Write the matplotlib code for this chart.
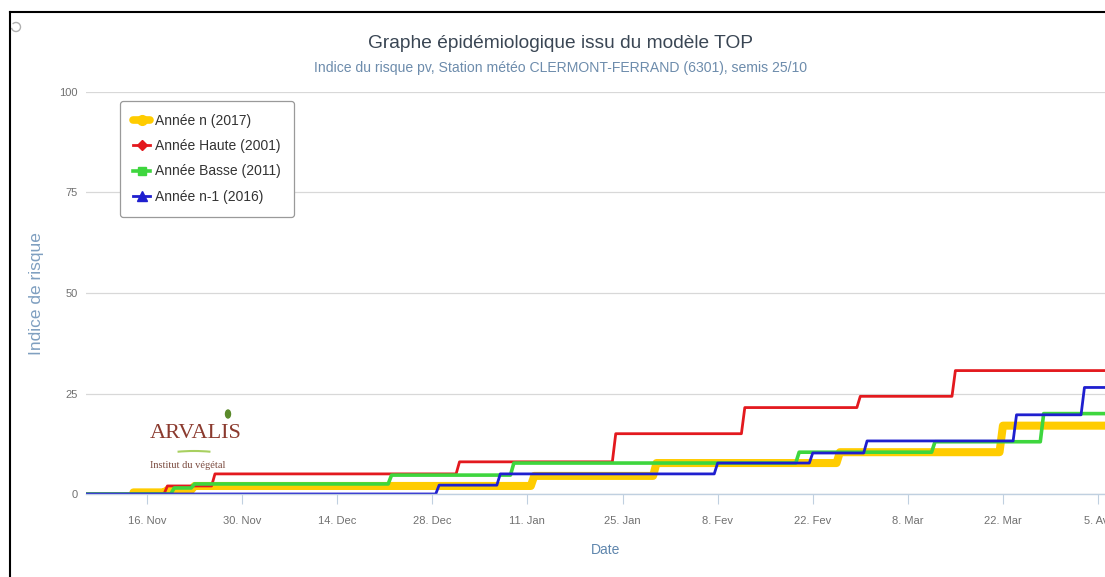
import matplotlib
matplotlib.use("Agg")
import matplotlib.pyplot as plt
from matplotlib.lines import Line2D
from matplotlib.patches import Arc, Ellipse
from datetime import datetime, timedelta

# ---------------- data ----------------
title = "Graphe épidémiologique issu du modèle TOP"
subtitle = "Indice du risque pv, Station météo CLERMONT-FERRAND (6301), semis 25/10"

series_names = ["Année n (2017)", "Année Haute (2001)", "Année Basse (2011)", "Année n-1 (2016)"]

yellow_dates = ["2017-11-14", "2017-11-19", "2017-11-23", "2018-01-12", "2018-01-30",
                "2018-02-26", "2018-03-22", "2018-04-09"]
yellow_vals = [0.4, 1.0, 2.0, 4.5, 7.7, 10.4, 17.0, 17.0]

red_dates = ["2017-11-07", "2017-11-19", "2017-11-26", "2018-01-01", "2018-01-24",
             "2018-02-12", "2018-03-01", "2018-03-15", "2018-04-09"]
red_vals = [0.0, 2.0, 5.0, 8.0, 15.0, 21.5, 24.3, 30.7, 30.7]

green_dates = ["2017-11-07", "2017-11-20", "2017-11-23", "2017-12-22", "2018-01-09",
               "2018-02-20", "2018-03-12", "2018-03-28", "2018-04-09"]
green_vals = [0.0, 1.5, 2.5, 4.7, 7.7, 10.4, 13.0, 20.0, 20.0]

blue_dates = ["2017-11-07", "2017-12-29", "2018-01-07", "2018-02-08", "2018-02-22",
              "2018-03-02", "2018-03-24", "2018-04-03", "2018-04-09"]
blue_vals = [0.0, 2.2, 5.0, 7.7, 10.2, 13.2, 19.7, 26.5, 26.5]

tick_dates = ["2017-11-16", "2017-11-30", "2017-12-14", "2017-12-28", "2018-01-11",
              "2018-01-25", "2018-02-08", "2018-02-22", "2018-03-08", "2018-03-22", "2018-04-05"]
tick_labels = ["16. Nov", "30. Nov", "14. Dec", "28. Dec", "11. Jan", "25. Jan",
               "8. Fev", "22. Fev", "8. Mar", "22. Mar", "5. Avr"]
y_ticks = [0, 25, 50, 75, 100]

x_start = "2017-11-07"
x_end = "2018-04-09"

# ---------------- style ----------------
FONT = ["Liberation Sans", "DejaVu Sans"]
plt.rcParams["font.family"] = FONT


def d(s):
    return datetime.strptime(s, "%Y-%m-%d")


def ramp_steps(dates, vals, ramp_days=0.5):
    """Step line where each change happens over a short ramp (as in the original chart)."""
    xs, ys = [d(dates[0])], [vals[0]]
    for i in range(1, len(dates)):
        t = d(dates[i])
        xs.append(t - timedelta(days=ramp_days))
        ys.append(vals[i - 1])
        xs.append(t)
        ys.append(vals[i])
    return xs, ys


W, H = 1105, 577
fig = plt.figure(figsize=(W / 100, H / 100), dpi=100)
fig.patch.set_facecolor("white")

left_px, right_px, top_px, bot_px = 85.9, 1125.2, 92, 494
ax = fig.add_axes([left_px / W, 1 - bot_px / H, (right_px - left_px) / W, (bot_px - top_px) / H])
ax.set_xlim(d(x_start), d(x_end))
ax.set_ylim(0, 100)

series = [
    (yellow_dates, yellow_vals, "#FFCC00", 5.8),
    (red_dates, red_vals, "#E3191E", 2.0),
    (green_dates, green_vals, "#3ED63E", 2.6),
    (blue_dates, blue_vals, "#1F1FCF", 2.0),
]
for dates, vals, col, lw in series:
    xs, ys = ramp_steps(dates, vals)
    ax.plot(xs, ys, color=col, lw=lw, solid_joinstyle="round", solid_capstyle="round")

for sp in ["top", "right", "left"]:
    ax.spines[sp].set_visible(False)
ax.spines["bottom"].set_color("#C0D0E0")
ax.spines["bottom"].set_linewidth(1.0)

ax.set_yticks(y_ticks)
ax.set_yticklabels([str(v) for v in y_ticks])
ax.tick_params(axis="y", length=0, pad=6, labelsize=8, labelcolor="#707070")
ax.yaxis.grid(True, color="#D8D8D8", lw=0.9)
ax.set_axisbelow(True)

ax.set_xticks([d(s) for s in tick_dates])
ax.set_xticklabels(tick_labels)
ax.tick_params(axis="x", length=7, width=0.8, color="#C0D0E0", pad=9, labelsize=8,
               labelcolor="#707070")

ax.set_xlabel("Date", color="#5f86ad", fontsize=10, labelpad=12)
fig.text(37 / W, 1 - 294 / H, "Indice de risque", rotation=90, ha="center", va="center",
         color="#7f9fc0", fontsize=12.5)

fig.text(561 / W, 1 - 43 / H, title, ha="center", va="center", fontsize=13.8, color="#3a4654")
fig.text(560 / W, 1 - 68 / H, subtitle, ha="center", va="center", fontsize=10.1, color="#6d8cac")

# legend
handles = [
    Line2D([], [], color="#FFCC00", lw=5.5, marker="o", markersize=7, solid_capstyle="round"),
    Line2D([], [], color="#E3191E", lw=2, marker="D", markersize=5),
    Line2D([], [], color="#3ED63E", lw=2.6, marker="s", markersize=6),
    Line2D([], [], color="#1F1FCF", lw=2, marker="^", markersize=7),
]
leg = fig.legend(handles, series_names, loc="upper left",
                 bbox_to_anchor=(120 / W, 1 - 101 / H), bbox_transform=fig.transFigure,
                 borderaxespad=0, fontsize=10, frameon=True, fancybox=True, edgecolor="#9a9a9a",
                 handlelength=1.2, handletextpad=0.35, labelspacing=0.8, borderpad=0.95,
                 framealpha=1.0)
leg.get_frame().set_linewidth(0.9)
for t in leg.get_texts():
    t.set_color("#333333")

# ARVALIS logo (text)
fig.text(150 / W, 1 - 434 / H, "ARVALIS", family=["Liberation Serif", "DejaVu Serif"],
         fontsize=16, color="#8b3a2e", ha="left", va="center")
fig.add_artist(Arc((194 / W, 1 - 462 / H), 90 / W, 22 / H, theta1=50, theta2=130,
                   transform=fig.transFigure, color="#a8d060", lw=1.5))
fig.text(150 / W, 1 - 466 / H, "Institut du végétal", family=["Liberation Serif", "DejaVu Serif"],
         fontsize=7.5, color="#7a4a3e", ha="left", va="center")
fig.add_artist(Ellipse((228 / W, 1 - 414 / H), 5 / W, 8 / H, angle=0,
                       transform=fig.transFigure, color="#5a8a2a"))

# screenshot frame
fig.add_artist(Line2D([10 / W, 1], [1 - 12 / H, 1 - 12 / H], color="black", lw=1.5,
                      transform=fig.transFigure))
fig.add_artist(Line2D([10 / W, 10 / W], [0, 1 - 12 / H], color="black", lw=1.5,
                      transform=fig.transFigure))
fig.add_artist(Arc((16 / W, 1 - 27 / H), 9 / W, 9 / H, theta1=200, theta2=120,
                   transform=fig.transFigure, color="#b0b0b0", lw=1))

fig.savefig("out.png", dpi=100, facecolor="white")
